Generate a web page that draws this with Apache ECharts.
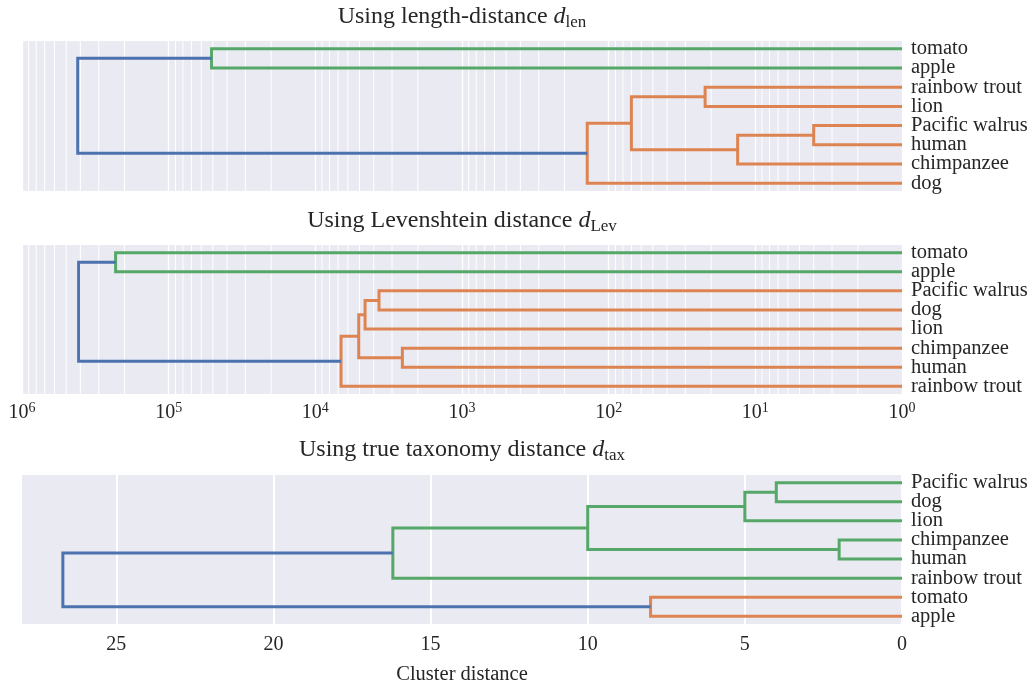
<!DOCTYPE html>
<html>
<head>
<meta charset="utf-8">
<script src="https://cdn.jsdelivr.net/npm/echarts@6/dist/echarts.min.js"></script>
<style>
html, body { margin: 0; padding: 0; background: #fff; }
#chart { width: 1034px; height: 683px; }
</style>
</head>
<body>
<div id="chart"></div>
<script>
// leaves, top to bottom, for each panel
var lenLeaves = ["tomato", "apple", "rainbow trout", "lion", "Pacific walrus", "human", "chimpanzee", "dog"];
var levLeaves = ["tomato", "apple", "Pacific walrus", "dog", "lion", "chimpanzee", "human", "rainbow trout"];
var taxLeaves = ["Pacific walrus", "dog", "lion", "chimpanzee", "human", "rainbow trout", "tomato", "apple"];

// merges: [child a, child b, distance]; new cluster id = leaf count + merge index
var lenMerges = [[4, 5, 4.0], [8, 6, 13.2], [2, 3, 22], [10, 9, 70], [11, 7, 140], [0, 1, 51000], [13, 12, 417000]];
var levMerges = [[2, 3, 3680], [8, 4, 4580], [5, 6, 2550], [9, 10, 5060], [11, 7, 6680], [0, 1, 230000], [13, 12, 411000]];
var taxMerges = [[0, 1, 4], [8, 2, 5], [3, 4, 2], [9, 10, 10], [11, 5, 16.2], [6, 7, 8], [12, 13, 26.7]];

// link colour of each merge
var lenColors = ["o", "o", "o", "o", "o", "g", "b"];
var levColors = ["o", "o", "o", "o", "o", "g", "b"];
var taxColors = ["g", "g", "g", "g", "g", "o", "b"];

var palette = { b: "#4C72B0", o: "#DD8452", g: "#55A868" };
var serif = "'Liberation Serif', 'DejaVu Serif', serif";
var ink = "#262626";

// minor log gridlines (2..9 x 10^k)
var minorSteps = [2, 3, 4, 5, 6, 7, 8, 9];
var decades = [1, 10, 100, 1000, 10000, 100000];

var yMin = -0.4, yMax = 7.4;

// turn merges into U-shaped links
function buildLinks(leafCount, merges, colors, base, gi) {
    var pos = [];
    for (var i = 0; i < leafCount; i++) pos.push({ x: base, y: i });
    var out = [];
    merges.forEach(function (m, k) {
        var a = pos[m[0]], b = pos[m[1]], h = m[2];
        out.push({
            type: "line",
            xAxisIndex: gi,
            yAxisIndex: gi * 2,
            data: [[a.x, a.y], [h, a.y], [h, b.y], [b.x, b.y]],
            showSymbol: false,
            symbol: "none",
            silent: true,
            z: 3,
            lineStyle: { color: palette[colors[k]], width: 3, cap: "butt", join: "miter" }
        });
        pos.push({ x: h, y: (a.y + b.y) / 2 });
    });
    return out;
}

// thin white verticals at the minor log values
function minorGrid(gi) {
    var out = [];
    decades.forEach(function (d) {
        minorSteps.forEach(function (s) {
            out.push({
                type: "line",
                xAxisIndex: gi,
                yAxisIndex: gi * 2,
                data: [[s * d, yMin], [s * d, yMax]],
                showSymbol: false,
                symbol: "none",
                silent: true,
                z: 1,
                lineStyle: { color: "#ffffff", width: 1 }
            });
        });
    });
    return out;
}

function logAxis(gi, showLabels) {
    return {
        gridIndex: gi,
        type: "log",
        logBase: 10,
        min: 1,
        max: 1000000,
        splitNumber: 6,
        inverse: true,
        axisLine: { show: false },
        axisTick: { show: false },
        splitLine: { show: true, lineStyle: { color: "#ffffff", width: 1.3 } },
        axisLabel: {
            show: showLabels,
            margin: 7,
            fontFamily: serif,
            fontSize: 20,
            color: ink,
            lineHeight: 24,
            formatter: function (v) { return "10{s|" + Math.round(Math.log10(v)) + "}"; },
            rich: {
                s: { fontFamily: serif, fontSize: 14, lineHeight: 14, verticalAlign: "top", color: ink }
            }
        }
    };
}

// leaf names sit on two right-hand axes (even / odd rows) so neighbours are never hidden
function leafAxis(gi, leaves, rows) {
    return {
        gridIndex: gi,
        type: "value",
        position: "right",
        inverse: true,
        min: yMin,
        max: yMax,
        axisLine: { show: false },
        axisTick: { show: false },
        splitLine: { show: false },
        axisLabel: {
            customValues: rows,
            showMinLabel: true,
            showMaxLabel: true,
            margin: 9,
            fontFamily: serif,
            fontSize: 20.5,
            color: ink,
            formatter: function (v) { return leaves[Math.round(v)]; }
        }
    };
}

function titleText(y, main, sub) {
    return {
        type: "text",
        x: 462,
        y: y,
        silent: true,
        style: {
            text: main + " {d|d}{s|" + sub + "}",
            font: "24px " + serif,
            fontFamily: serif,
            fontSize: 24,
            lineHeight: 28,
            fill: ink,
            align: "center",
            verticalAlign: "middle",
            rich: {
                d: { fontFamily: serif, fontSize: 24, lineHeight: 28, fontStyle: "italic", fill: ink },
                s: { fontFamily: serif, fontSize: 17, lineHeight: 17, verticalAlign: "bottom", fill: ink }
            }
        }
    };
}

var evenRows = [0, 2, 4, 6];
var oddRows = [1, 3, 5, 7];

var gridBase = { left: 22, right: 132, show: true, backgroundColor: "#EAEAF2", borderWidth: 0, outerBoundsMode: "none", containLabel: false };

var series = []
    .concat(minorGrid(0))
    .concat(minorGrid(1))
    .concat(buildLinks(8, lenMerges, lenColors, 1, 0))
    .concat(buildLinks(8, levMerges, levColors, 1, 1))
    .concat(buildLinks(8, taxMerges, taxColors, 0, 2));

var myChart = echarts.init(document.getElementById("chart"));
myChart.setOption({
    animation: false,
    backgroundColor: "#ffffff",
    grid: [
        Object.assign({ top: 41, height: 150 }, gridBase),
        Object.assign({ top: 245, height: 149 }, gridBase),
        Object.assign({ top: 475, height: 149 }, gridBase)
    ],
    xAxis: [
        logAxis(0, false),
        logAxis(1, true),
        {
            gridIndex: 2,
            type: "value",
            min: 0,
            max: 28,
            interval: 5,
            inverse: true,
            name: "Cluster distance",
            nameLocation: "middle",
            nameGap: 40,
            nameTextStyle: { fontFamily: serif, fontSize: 20.5, color: ink },
            axisLine: { show: false },
            axisTick: { show: false },
            splitLine: { show: true, showMaxLine: false, lineStyle: { color: "#ffffff", width: 2 } },
            axisLabel: { showMaxLabel: false, margin: 11, fontFamily: serif, fontSize: 20, color: ink }
        }
    ],
    yAxis: [
        leafAxis(0, lenLeaves, evenRows), leafAxis(0, lenLeaves, oddRows),
        leafAxis(1, levLeaves, evenRows), leafAxis(1, levLeaves, oddRows),
        leafAxis(2, taxLeaves, evenRows), leafAxis(2, taxLeaves, oddRows)
    ],
    graphic: [
        titleText(17, "Using length-distance", "len"),
        titleText(221, "Using Levenshtein distance", "Lev"),
        titleText(450, "Using true taxonomy distance", "tax")
    ],
    series: series
});
</script>
</body>
</html>
